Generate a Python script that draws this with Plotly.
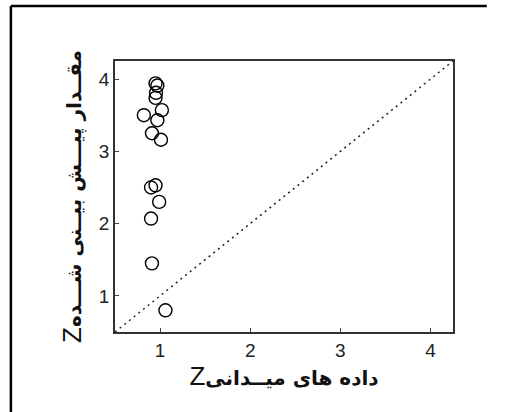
import plotly.graph_objects as go

# Field-measured Z (x) against predicted Z (y)
z_field = [0.95, 0.97, 0.955, 0.95, 0.82, 1.02, 0.97, 0.91, 1.01,
           0.90, 0.95, 0.99, 0.90, 0.91, 1.06]
z_pred = [3.94, 3.91, 3.81, 3.74, 3.50, 3.57, 3.43, 3.25, 3.16,
          2.50, 2.53, 2.30, 2.07, 1.45, 0.80]

axis_range = [0.5, 4.25]
tick_vals = [1, 2, 3, 4]

z_part = '<span style="font-size:26px;font-weight:normal;font-family:Liberation Sans">Z</span>'
x_title = z_part + "داده های میــدانی"
y_title = z_part + "مقــدار پیـــش بیــنی شـــده"

fig = go.Figure()

# 1:1 reference line
fig.add_trace(go.Scatter(
    x=axis_range, y=axis_range, mode="lines",
    line=dict(color="#222222", width=1.5, dash="2px,4px"),
    hoverinfo="skip", showlegend=False,
))

fig.add_trace(go.Scatter(
    x=z_field, y=z_pred, mode="markers",
    marker=dict(size=13, color="rgba(255,255,255,0)",
                line=dict(color="black", width=1.4)),
    showlegend=False,
))

axis_common = dict(
    range=axis_range, tickvals=tick_vals, ticks="inside", ticklen=4,
    showline=True, linecolor="#333333", linewidth=1.5, mirror=True,
    showgrid=False, zeroline=False,
    tickfont=dict(family="Liberation Sans, Arial", size=19, color="#222222"),
)

title_font = dict(family="DejaVu Sans", size=20, color="#111111", weight="bold")

fig.update_xaxes(**axis_common,
                 title=dict(text=x_title, standoff=4, font=title_font))
fig.update_yaxes(**axis_common,
                 title=dict(text=y_title, standoff=12, font=title_font))

# Outer frame edges (left and top)
frame = dict(type="line", xref="paper", yref="paper",
             line=dict(color="black", width=2.5))
fig.add_shape(**frame, x0=-0.308, x1=-0.308, y0=-0.3, y1=1.203)
fig.add_shape(**frame, x0=-0.308, x1=1.1, y0=1.203, y1=1.203)

fig.update_layout(
    width=507, height=412,
    margin=dict(l=115, r=54, t=61, b=80),
    plot_bgcolor="white", paper_bgcolor="white",
)

fig.write_html("out.html")
